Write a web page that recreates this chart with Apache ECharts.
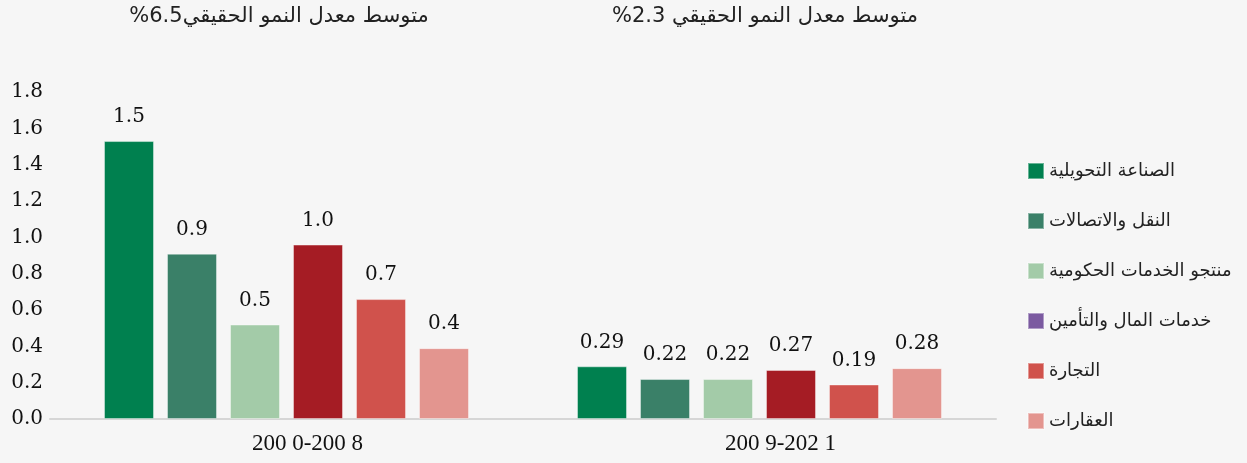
<!DOCTYPE html>
<html>
<head>
<meta charset="utf-8">
<script src="https://cdn.jsdelivr.net/npm/echarts@6/dist/echarts.min.js"></script>
<style>
  html, body { margin: 0; padding: 0; background: #f6f6f6; }
  #chart { width: 1247px; height: 463px; }
</style>
</head>
<body>
<div id="chart"></div>
<script>
// periods on the x axis
const categories = ["200 0-200 8", "200 9-202 1"];
const titles = ["متوسط معدل النمو الحقيقي6.5%", "متوسط معدل النمو الحقيقي 2.3%"];

const seriesNames = [
  "الصناعة التحويلية",
  "النقل والاتصالات",
  "منتجو الخدمات الحكومية",
  "خدمات المال والتأمين",
  "التجارة",
  "العقارات",
];
const barColors = ["#00804f", "#3a8068", "#a3cba8", "#a51c24", "#d0524c", "#e3958f"];
const legendColors = ["#00804f", "#3a8068", "#a3cba8", "#7b5aa0", "#d0524c", "#e3958f"];

// one array per sector: [2000-2008, 2009-2021]
const manufacturing = [1.53, 0.29];
const transport = [0.91, 0.22];
const government = [0.52, 0.22];
const finance = [0.96, 0.27];
const trade = [0.66, 0.19];
const realEstate = [0.39, 0.28];
const values = [manufacturing, transport, government, finance, trade, realEstate];

const yTicks = [0, 0.2, 0.4, 0.6, 0.8, 1.0, 1.2, 1.4, 1.6, 1.8];

const serif = "DejaVu Serif";
const sans = "DejaVu Sans";

const chart = echarts.init(document.getElementById("chart"));

// RLE ... PDF so the percent sits on the left like in the original
const titleText = (t, cx) => ({
  type: "text",
  x: cx,
  y: 17,
  style: {
    text: "\u202B" + t + "\u202C",
    fontFamily: sans, fontSize: 21, fill: "#222",
    align: "center", verticalAlign: "middle",
  },
});

const option = {
  backgroundColor: "#f6f6f6",
  animation: false,
  textStyle: { fontFamily: serif },
  grid: { left: 50, right: 251, top: 92, bottom: 44 },
  graphic: [titleText(titles[0], 279), titleText(titles[1], 765)],
  legend: {
    orient: "vertical",
    left: 1022,
    top: 157,
    itemWidth: 16,
    itemHeight: 16,
    itemGap: 32,
    icon: "rect",
    textStyle: { fontFamily: sans, fontSize: 18, color: "#222", lineHeight: 18 },
    data: seriesNames.map((n, i) => ({ name: n, itemStyle: { color: legendColors[i] } })),
  },
  xAxis: {
    type: "category",
    data: categories,
    axisLine: { lineStyle: { color: "#d6d6d6", width: 2 } },
    axisTick: { show: false },
    axisLabel: {
      fontFamily: "Liberation Serif", fontSize: 23, color: "#111", margin: 13,
      padding: [0, 0, 0, 42],
    },
  },
  yAxis: {
    type: "value",
    min: 0,
    max: yTicks[yTicks.length - 1],
    interval: 0.2,
    splitLine: { show: false },
    axisLine: { show: false },
    axisTick: { show: false },
    axisLabel: {
      fontFamily: serif, fontSize: 20, color: "#111", margin: 7,
      formatter: (v) => v.toFixed(1),
    },
  },
  series: seriesNames.map((name, i) => ({
    name: name,
    type: "bar",
    data: values[i],
    barWidth: 50,
    barGap: "26%",
    itemStyle: { color: barColors[i], borderColor: "rgba(255,255,255,0.4)", borderWidth: 1 },
    label: {
      show: true,
      position: "top",
      distance: 14,
      fontFamily: serif,
      fontSize: 20,
      color: "#111",
      formatter: (p) => (p.dataIndex === 0 ? p.value.toFixed(1) : p.value.toFixed(2)),
    },
  })),
};

chart.setOption(option);
</script>
</body>
</html>
